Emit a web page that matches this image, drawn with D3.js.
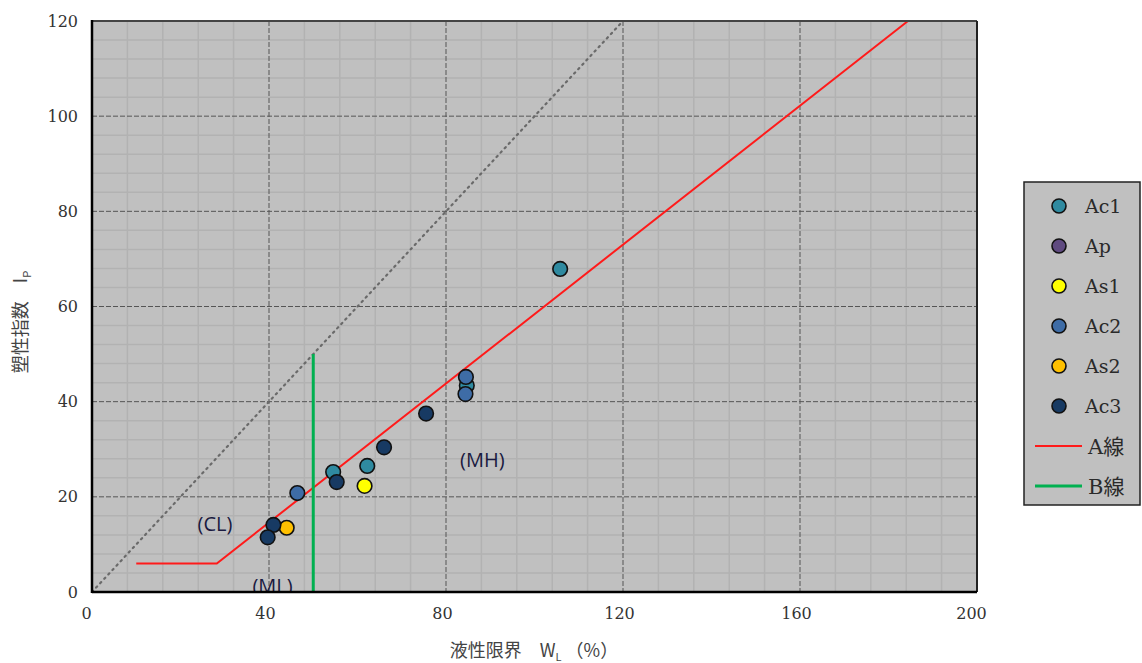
<!DOCTYPE html>
<html>
<head>
<meta charset="utf-8">
<script src="https://cdn.jsdelivr.net/npm/d3@7"></script>
<style>
  html, body { margin: 0; padding: 0; background: #ffffff; }
  svg { display: block; }
</style>
</head>
<body>
<svg id="chart" width="1142" height="663"></svg>
<script>
// Plasticity chart: liquid limit wL (%) vs plasticity index Ip
const seriesNames = ["Ac1", "Ap", "As1", "Ac2", "As2", "Ac3"];
const seriesColors = ["#2f8aa0", "#5f4a80", "#ffff00", "#3e6ca6", "#ffc000", "#173a63"];
const ac1 = [[54.5, 25.2], [62.2, 26.5], [84.7, 43.4], [105.8, 67.9]];
const ap = [];
const as1 = [[61.6, 22.3]];
const ac2 = [[46.4, 20.8], [84.5, 45.2], [84.4, 41.6]];
const as2 = [[44.0, 13.5]];
const ac3 = [[41.0, 14.1], [39.7, 11.5], [55.3, 23.1], [66.0, 30.4], [75.5, 37.5]];
const seriesData = [ac1, ap, as1, ac2, as2, ac3];

// Reference lines
const aLine = [[10, 6], [28.2, 6], [184.4, 120]];   // A線: Ip = 0.73(wL - 20), floor at 6
const bLine = [[50, 0], [50, 50]];                    // B線: wL = 50
const uLine = [[0, 0], [120, 120]];                   // Ip = wL

const xTicks = [0, 40, 80, 120, 160, 200];
const yTicks = [0, 20, 40, 60, 80, 100, 120];
const zoneLabels = [["(CL)", 27.8, 12.9], ["(MH)", 88.2, 26.2], ["(ML)", 40.8, -0.3]];

const svg = d3.select("#chart");
const plot = { left: 92, right: 977, top: 21, bottom: 592 };

const x = d3.scaleLinear().domain([0, 200]).range([plot.left, plot.right]);
const y = d3.scaleLinear().domain([0, 120]).range([plot.bottom, plot.top]);

svg.append("defs").append("clipPath").attr("id", "plotClip")
  .append("rect")
  .attr("x", plot.left).attr("y", plot.top)
  .attr("width", plot.right - plot.left).attr("height", plot.bottom - plot.top);

// Plot area background
svg.append("rect")
  .attr("x", plot.left).attr("y", plot.top)
  .attr("width", plot.right - plot.left).attr("height", plot.bottom - plot.top)
  .attr("fill", "#c0c0c0");

// Minor grid
const g = svg.append("g");
g.selectAll("line.mx").data(d3.range(8, 200, 8).filter(v => v % 40 !== 0)).join("line")
  .attr("x1", d => x(d)).attr("x2", d => x(d))
  .attr("y1", plot.top).attr("y2", plot.bottom)
  .attr("stroke", "#b2b2b2").attr("stroke-width", 1.5);
g.selectAll("line.my").data(d3.range(4, 120, 4).filter(v => v % 20 !== 0)).join("line")
  .attr("x1", plot.left).attr("x2", plot.right)
  .attr("y1", d => y(d)).attr("y2", d => y(d))
  .attr("stroke", "#b2b2b2").attr("stroke-width", 1.5);

// Major grid (dashed)
g.selectAll("line.Mx").data(xTicks.slice(1, -1)).join("line")
  .attr("x1", d => x(d)).attr("x2", d => x(d))
  .attr("y1", plot.top).attr("y2", plot.bottom)
  .attr("stroke", "#555").attr("stroke-width", 1).attr("stroke-dasharray", "5,2");
g.selectAll("line.My").data(yTicks.slice(1, -1)).join("line")
  .attr("x1", plot.left).attr("x2", plot.right)
  .attr("y1", d => y(d)).attr("y2", d => y(d))
  .attr("stroke", "#555").attr("stroke-width", 1).attr("stroke-dasharray", "5,2");

const line = d3.line().x(d => x(d[0])).y(d => y(d[1]));

// Ip = wL dotted line
svg.append("path").attr("d", line(uLine))
  .attr("fill", "none").attr("stroke", "#6a6a6a").attr("stroke-width", 2.2)
  .attr("stroke-dasharray", "1.5,4.5").attr("stroke-linecap", "round");

// A line
svg.append("path").attr("d", line(aLine))
  .attr("fill", "none").attr("stroke", "#ff1a1a").attr("stroke-width", 2);

// B line
svg.append("path").attr("d", line(bLine))
  .attr("fill", "none").attr("stroke", "#00b050").attr("stroke-width", 3);

// Zone labels (clipped to the plot area)
svg.append("g").attr("clip-path", "url(#plotClip)")
  .selectAll("text").data(zoneLabels).join("text")
  .attr("x", d => x(d[1])).attr("y", d => y(d[2]))
  .attr("text-anchor", "middle")
  .attr("font-family", "'Open Sans', 'Noto Sans', sans-serif")
  .attr("font-size", 20)
  .attr("fill", "#1a1a40")
  .text(d => d[0]);

// Data points
seriesData.forEach((pts, i) => {
  svg.append("g").selectAll("circle").data(pts).join("circle")
    .attr("cx", d => x(d[0])).attr("cy", d => y(d[1]))
    .attr("r", 7.3)
    .attr("fill", seriesColors[i])
    .attr("stroke", "#111").attr("stroke-width", 1.6);
});

// Frame
svg.append("line").attr("x1", plot.left).attr("x2", plot.right).attr("y1", plot.top).attr("y2", plot.top)
  .attr("stroke", "#444").attr("stroke-width", 2);
svg.append("line").attr("x1", plot.right).attr("x2", plot.right).attr("y1", plot.top).attr("y2", plot.bottom)
  .attr("stroke", "#222").attr("stroke-width", 2);
svg.append("line").attr("x1", plot.left).attr("x2", plot.left).attr("y1", plot.top - 1).attr("y2", plot.bottom + 1)
  .attr("stroke", "#000").attr("stroke-width", 2.5);
svg.append("line").attr("x1", plot.left).attr("x2", plot.right).attr("y1", plot.bottom).attr("y2", plot.bottom)
  .attr("stroke", "#000").attr("stroke-width", 2.5);

// Axes tick labels
const xAxis = d3.axisBottom(x).tickValues(xTicks).tickSize(0).tickPadding(16);
const xg = svg.append("g").attr("transform", `translate(0,${plot.bottom})`).call(xAxis)
  .attr("font-family", "'DejaVu Serif', serif").attr("font-size", 16);
xg.select(".domain").remove();
xg.selectAll("text").attr("fill", "#333")
  .attr("dx", d => d === 0 ? -6 : (d === 200 ? -6 : -4));

const yAxis = d3.axisLeft(y).tickValues(yTicks).tickSize(0).tickPadding(14);
const yg = svg.append("g").attr("transform", `translate(${plot.left},0)`).call(yAxis)
  .attr("font-family", "'DejaVu Serif', serif").attr("font-size", 16);
yg.select(".domain").remove();
yg.selectAll("text").attr("fill", "#333");

// Axis titles
const xt = svg.append("text").attr("x", 534).attr("y", 657).attr("text-anchor", "middle")
  .attr("font-family", "'Noto Sans CJK JP', sans-serif").attr("font-size", 18).attr("fill", "#444");
xt.append("tspan").text("液性限界　W");
xt.append("tspan").attr("font-size", 11).attr("dy", 4).text("L");
xt.append("tspan").attr("dy", -4).text(" （%）");

const yt = svg.append("text").attr("transform", "translate(27,322) rotate(-90)").attr("text-anchor", "middle")
  .attr("font-family", "'Noto Sans CJK JP', sans-serif").attr("font-size", 18).attr("fill", "#444");
yt.append("tspan").text("塑性指数　I");
yt.append("tspan").attr("font-size", 11).attr("dy", 4).text("P");

// Legend
const lg = svg.append("g");
lg.append("rect").attr("x", 1024).attr("y", 182).attr("width", 116).attr("height", 323)
  .attr("fill", "#c0c0c0").attr("stroke", "#222").attr("stroke-width", 1.5);
const rowY = i => 206 + i * 40;
seriesNames.forEach((name, i) => {
  lg.append("circle").attr("cx", 1059).attr("cy", rowY(i)).attr("r", 7)
    .attr("fill", seriesColors[i]).attr("stroke", "#111").attr("stroke-width", 1.6);
  lg.append("text").attr("x", 1085).attr("y", rowY(i) + 7)
    .attr("font-family", "'DejaVu Serif', serif").attr("font-size", 19).attr("fill", "#2a2a2a")
    .text(name);
});
const lineItems = [["A線", "#ff1a1a", 2], ["B線", "#00b050", 3]];
lineItems.forEach((it, j) => {
  const yy = rowY(6 + j);
  lg.append("line").attr("x1", 1035).attr("x2", 1082).attr("y1", yy).attr("y2", yy)
    .attr("stroke", it[1]).attr("stroke-width", it[2]);
  lg.append("text").attr("x", 1088).attr("y", yy + 8)
    .attr("font-family", "'DejaVu Serif', 'Noto Sans CJK JP', serif").attr("font-size", 21).attr("fill", "#2a2a2a")
    .text(it[0]);
});
</script>
</body>
</html>
